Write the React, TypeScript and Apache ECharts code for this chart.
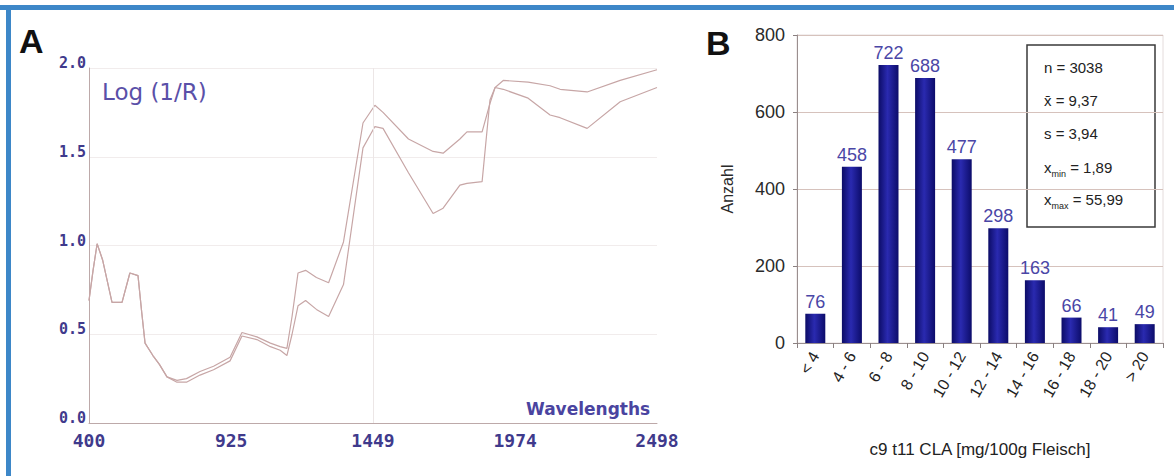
import React, { useEffect, useRef } from "react";
import * as echarts from "echarts";

// Panel A: NIR spectra
const wavelengths = [400, 415, 430, 450, 485, 522, 551, 581, 595, 607, 636, 660, 688, 725, 760, 810, 860, 921, 965, 1020, 1070, 1106, 1131, 1150, 1172, 1200, 1240, 1285, 1340, 1412, 1456, 1486, 1580, 1671, 1708, 1770, 1796, 1852, 1881, 1900, 1930, 2022, 2103, 2140, 2240, 2362, 2498];
const spectrumUpper = [0.69, 0.86, 1.01, 0.92, 0.68, 0.68, 0.845, 0.83, 0.62, 0.45, 0.38, 0.33, 0.26, 0.24, 0.25, 0.29, 0.32, 0.37, 0.51, 0.485, 0.45, 0.43, 0.42, 0.6, 0.845, 0.86, 0.82, 0.79, 1.02, 1.69, 1.79, 1.75, 1.6, 1.53, 1.52, 1.6, 1.64, 1.64, 1.8, 1.89, 1.93, 1.92, 1.9, 1.88, 1.865, 1.93, 1.99];
const spectrumLower = [0.69, 0.86, 1.01, 0.92, 0.68, 0.68, 0.845, 0.83, 0.62, 0.45, 0.38, 0.33, 0.26, 0.23, 0.23, 0.27, 0.3, 0.35, 0.49, 0.47, 0.43, 0.41, 0.38, 0.5, 0.66, 0.69, 0.64, 0.6, 0.78, 1.55, 1.67, 1.66, 1.41, 1.18, 1.21, 1.34, 1.35, 1.36, 1.82, 1.89, 1.88, 1.83, 1.735, 1.72, 1.66, 1.81, 1.89];
const wavelengthTicks = [400, 925, 1449, 1974, 2498];

// Panel B: histogram
const classes = ["< 4", "4 - 6", "6 - 8", "8 - 10", "10 - 12", "12 - 14", "14 - 16", "16 - 18", "18 - 20", "> 20"];
const counts = [76, 458, 722, 688, 477, 298, 163, 66, 41, 49];
const statLines = ["n = 3038", "x\u0304 = 9,37", "s = 3,94"];
const statMin = "1,89";
const statMax = "55,99";

const TICK_BLUE = "#3f3a8c";
const CURVE = "#c7a6a6";

export default function App() {
  const ref = useRef<HTMLDivElement>(null);
  useEffect(() => {
    if (!ref.current) return;
    const chart = echarts.init(ref.current, null, { renderer: "svg" });
    const upper = wavelengths.map((w, i) => [w, spectrumUpper[i]]);
    const lower = wavelengths.map((w, i) => [w, spectrumLower[i]]);
    const barGrad = new echarts.graphic.LinearGradient(0, 0, 1, 0, [
      { offset: 0, color: "#0c0c66" },
      { offset: 0.45, color: "#2a2ab0" },
      { offset: 1, color: "#0c0c6a" },
    ]);
    const subRich = {
      a: { fontSize: 15, fontFamily: "Liberation Sans", fill: "#222", lineHeight: 18, verticalAlign: "top" },
      s: { fontSize: 9, fontFamily: "Liberation Sans", fill: "#222", lineHeight: 18, padding: [9, 0, 0, 0] },
    };
    chart.setOption({
      animation: false,
      backgroundColor: "#ffffff",
      grid: [
        { left: 89, top: 68, width: 568, height: 355 },
        { left: 797, top: 35, width: 366, height: 308, show: true, borderColor: "#e4dcdc", borderWidth: 1, backgroundColor: "transparent" },
      ],
      xAxis: [
        {
          gridIndex: 0,
          type: "value",
          min: 400,
          max: 2498,
          axisLine: { show: true, lineStyle: { color: "#bda9a9", width: 1 } },
          axisTick: { show: false },
          splitLine: { show: false },
          axisLabel: {
            customValues: wavelengthTicks,
            formatter: (v: number) => String(Math.round(v)),
            color: TICK_BLUE,
            fontFamily: "DejaVu Sans Mono",
            fontWeight: "bold",
            fontSize: 18,
            margin: 8,
          },
        },
        {
          gridIndex: 1,
          type: "category",
          data: classes,
          boundaryGap: true,
          axisLine: { show: true, lineStyle: { color: "#9a8f8f", width: 1 } },
          axisTick: { show: true, length: 5, lineStyle: { color: "#8a8080" } },
          axisLabel: {
            rotate: 60,
            color: "#222",
            fontFamily: "Liberation Sans",
            fontSize: 16,
            margin: 10,
          },
          name: "c9 t11 CLA [mg/100g Fleisch]",
          nameLocation: "middle",
          nameGap: 98,
          nameTextStyle: { color: "#222", fontFamily: "Liberation Sans", fontSize: 17 },
        },
      ],
      yAxis: [
        {
          gridIndex: 0,
          type: "value",
          min: 0,
          max: 2,
          interval: 0.5,
          axisLine: { show: true, lineStyle: { color: "#bda9a9", width: 1 } },
          axisTick: { show: false },
          splitLine: { show: true, lineStyle: { color: "#f1ecec", width: 1 } },
          axisLabel: {
            formatter: (v: number) => v.toFixed(1),
            color: TICK_BLUE,
            fontFamily: "DejaVu Sans Mono",
            fontWeight: "bold",
            fontSize: 15,
            margin: 3,
            verticalAlign: "bottom",
            lineHeight: 16,
            padding: [0, 0, -3, 0],
          },
        },
        {
          gridIndex: 1,
          type: "value",
          min: 0,
          max: 800,
          interval: 200,
          axisLine: { show: true, lineStyle: { color: "#9a8f8f", width: 1 } },
          axisTick: { show: true, length: 4, lineStyle: { color: "#8a8080" } },
          splitLine: { show: true, lineStyle: { color: "#d6c2bc", width: 1 } },
          axisLabel: {
            color: "#2a2a2a",
            fontFamily: "Liberation Sans",
            fontSize: 18,
            margin: 12,
          },
          name: "Anzahl",
          nameLocation: "middle",
          nameRotate: 90,
          nameGap: 62,
          nameTextStyle: { color: "#2a2a2a", fontFamily: "Liberation Sans", fontSize: 16 },
        },
      ],
      series: [
        {
          type: "line",
          xAxisIndex: 0,
          yAxisIndex: 0,
          data: upper,
          showSymbol: false,
          lineStyle: { color: CURVE, width: 1.2 },
          markLine: {
            silent: true,
            symbol: "none",
            label: { show: false },
            lineStyle: { color: "#ece6e6", type: "solid", width: 1 },
            data: [{ xAxis: 1449 }],
          },
        },
        {
          type: "line",
          xAxisIndex: 0,
          yAxisIndex: 0,
          data: lower,
          showSymbol: false,
          lineStyle: { color: CURVE, width: 1.2 },
        },
        {
          type: "bar",
          xAxisIndex: 1,
          yAxisIndex: 1,
          data: counts,
          barWidth: 20,
          itemStyle: { color: barGrad },
          label: {
            show: true,
            position: "top",
            distance: 3,
            color: "#4a46a6",
            fontFamily: "Liberation Sans",
            fontSize: 18,
          },
        },
      ],
      graphic: [
        { type: "rect", shape: { x: 0, y: 5, width: 1174, height: 5 }, style: { fill: "#3d87c8" } },
        { type: "rect", shape: { x: 6, y: 5, width: 5, height: 471 }, style: { fill: "#3d87c8" } },
        {
          type: "text",
          left: 19,
          top: 24,
          style: { text: "A", fontSize: 34, fontWeight: "bold", fontFamily: "Liberation Sans", fill: "#111" },
        },
        {
          type: "text",
          left: 706,
          top: 26,
          style: { text: "B", fontSize: 34, fontWeight: "bold", fontFamily: "Liberation Sans", fill: "#111" },
        },
        {
          type: "text",
          left: 102,
          top: 80,
          style: { text: "Log (1/R)", fontSize: 23, fontFamily: "DejaVu Sans", fill: "#5a50a8" },
        },
        {
          type: "text",
          left: 526,
          top: 400,
          style: { text: "Wavelengths", fontSize: 17, fontWeight: "bold", fontFamily: "DejaVu Sans", fill: "#4a44a0" },
        },
        {
          type: "rect",
          shape: { x: 1027, y: 45, width: 128, height: 182 },
          style: { fill: "#ffffff", stroke: "#3a3a3a", lineWidth: 1.5 },
        },
        ...statLines.map((t, i) => ({
          type: "text",
          left: 1044,
          top: 60 + i * 33,
          style: { text: t, fontSize: 15, fontFamily: "Liberation Sans", fill: "#222" },
        })),
        {
          type: "text",
          left: 1044,
          top: 160,
          style: { text: "{a|x}{s|min}{a| = " + statMin + "}", rich: subRich },
        },
        {
          type: "text",
          left: 1044,
          top: 192,
          style: { text: "{a|x}{s|max}{a| = " + statMax + "}", rich: subRich },
        },
      ],
    });
    return () => chart.dispose();
  }, []);
  return (
    <div
      ref={ref}
      style={{ position: "fixed", left: 0, top: 0, width: 1174, height: 476 }}
    />
  );
}
